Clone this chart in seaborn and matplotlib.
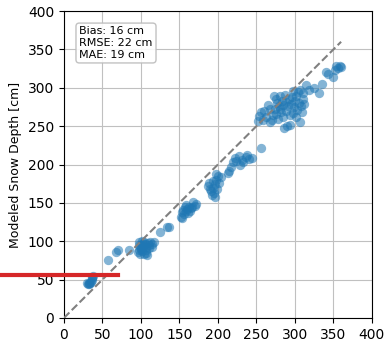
import numpy as np
import pandas as pd
import matplotlib
matplotlib.use("Agg")
import matplotlib.pyplot as plt
import seaborn as sns

# observed vs modeled snow depth [cm]
observed = [30, 31, 32, 33, 34, 35, 36, 37, 38, 36,
            57, 68, 70, 84, 96, 97, 98, 99, 100, 100, 101, 102, 103, 104, 105,
            106, 107, 108, 109, 110, 111, 112, 114, 115, 117, 104, 99, 102, 106, 98,
            125, 134, 137,
            152, 154, 155, 156, 157, 158, 160, 161, 162, 164, 165, 167, 168, 170,
            172, 159, 153,
            187, 189, 190, 191, 192, 193, 194, 195, 196, 197, 199, 200, 202, 204,
            198, 196,
            213, 215, 217, 220, 222, 224, 227, 229, 231, 233, 236, 238, 241, 244, 256,
            252, 254, 256, 258, 260, 262, 265, 267, 268, 270, 271, 273, 274, 275,
            276, 277, 278, 279, 280, 281, 282, 283, 284, 285, 286, 287, 288, 289,
            290, 291, 292, 293, 294, 295, 296, 297, 298, 299, 300, 301, 302, 303,
            304, 305, 306, 307, 308, 309, 310, 311, 312, 315, 318,
            325, 331, 335, 340, 343, 349, 352, 354, 356,
            358, 360]
modeled = [45, 44, 46, 44, 45, 47, 50, 52, 55, 54,
           75, 86, 88, 89, 86, 95, 99, 83, 90, 95, 100, 87, 92, 84, 96,
           88, 93, 82, 98, 91, 95, 99, 97, 93, 99, 99, 92, 96, 85, 88,
           112, 119, 118,
           132, 138, 141, 135, 144, 139, 142, 137, 145, 140, 143, 145, 151, 146,
           148, 147, 130,
           172, 176, 168, 165, 160, 178, 170, 163, 174, 180, 168, 185, 176, 184,
           188, 158,
           189, 192, 197, 203, 208, 205, 211, 199, 206, 203, 210, 212, 207, 209, 222,
           257, 263, 268, 258, 270, 262, 277, 256, 272, 258, 265, 289, 273, 286,
           266, 280, 259, 276, 272, 289, 268, 283, 262, 278, 248, 291, 270, 281,
           250, 276, 285, 265, 252, 279, 288, 267, 296, 275, 283, 262, 289, 271,
           295, 280, 255, 297, 276, 268, 286, 293, 279, 304, 297,
           300, 293, 305, 320, 318, 314, 323, 328, 326,
           329, 327]

one_to_one = [0, 360]
ticks = [0, 50, 100, 150, 200, 250, 300, 350, 400]
stats_text = "Bias: 16 cm\nRMSE: 22 cm\nMAE: 19 cm"

# red marker bar at the left
red_x = [-100, 70]
red_y = [56, 56]

df = pd.DataFrame({"obs": observed, "mod": modeled})

fig, ax = plt.subplots(figsize=(3.85, 3.46), dpi=100)
fig.subplots_adjust(left=0.166, right=0.966, top=0.968, bottom=0.081)

ax.grid(True, color="#c0c0c0", linewidth=0.8, zorder=0)
ax.set_axisbelow(True)

sns.scatterplot(data=df, x="obs", y="mod", ax=ax, s=45, alpha=0.55,
                color="#1f77b4", linewidth=0, zorder=3)
ax.plot(one_to_one, one_to_one, "--", color="gray", lw=1.5, zorder=4)

ax.set_xlim(0, 400)
ax.set_ylim(0, 400)
ax.set_xticks(ticks)
ax.set_yticks(ticks)
ax.set_xlabel("")
ax.set_ylabel("Modeled Snow Depth [cm]", fontsize=9)
ax.tick_params(labelsize=10)

ax.text(0.05, 0.95, stats_text, transform=ax.transAxes, fontsize=8,
        va="top", ha="left",
        bbox=dict(boxstyle="round", facecolor="white", edgecolor="#bbbbbb", alpha=0.9))

ax.plot(red_x, red_y, color="#d62728", lw=3, clip_on=False, zorder=10)

fig.savefig("out.png", dpi=100)
